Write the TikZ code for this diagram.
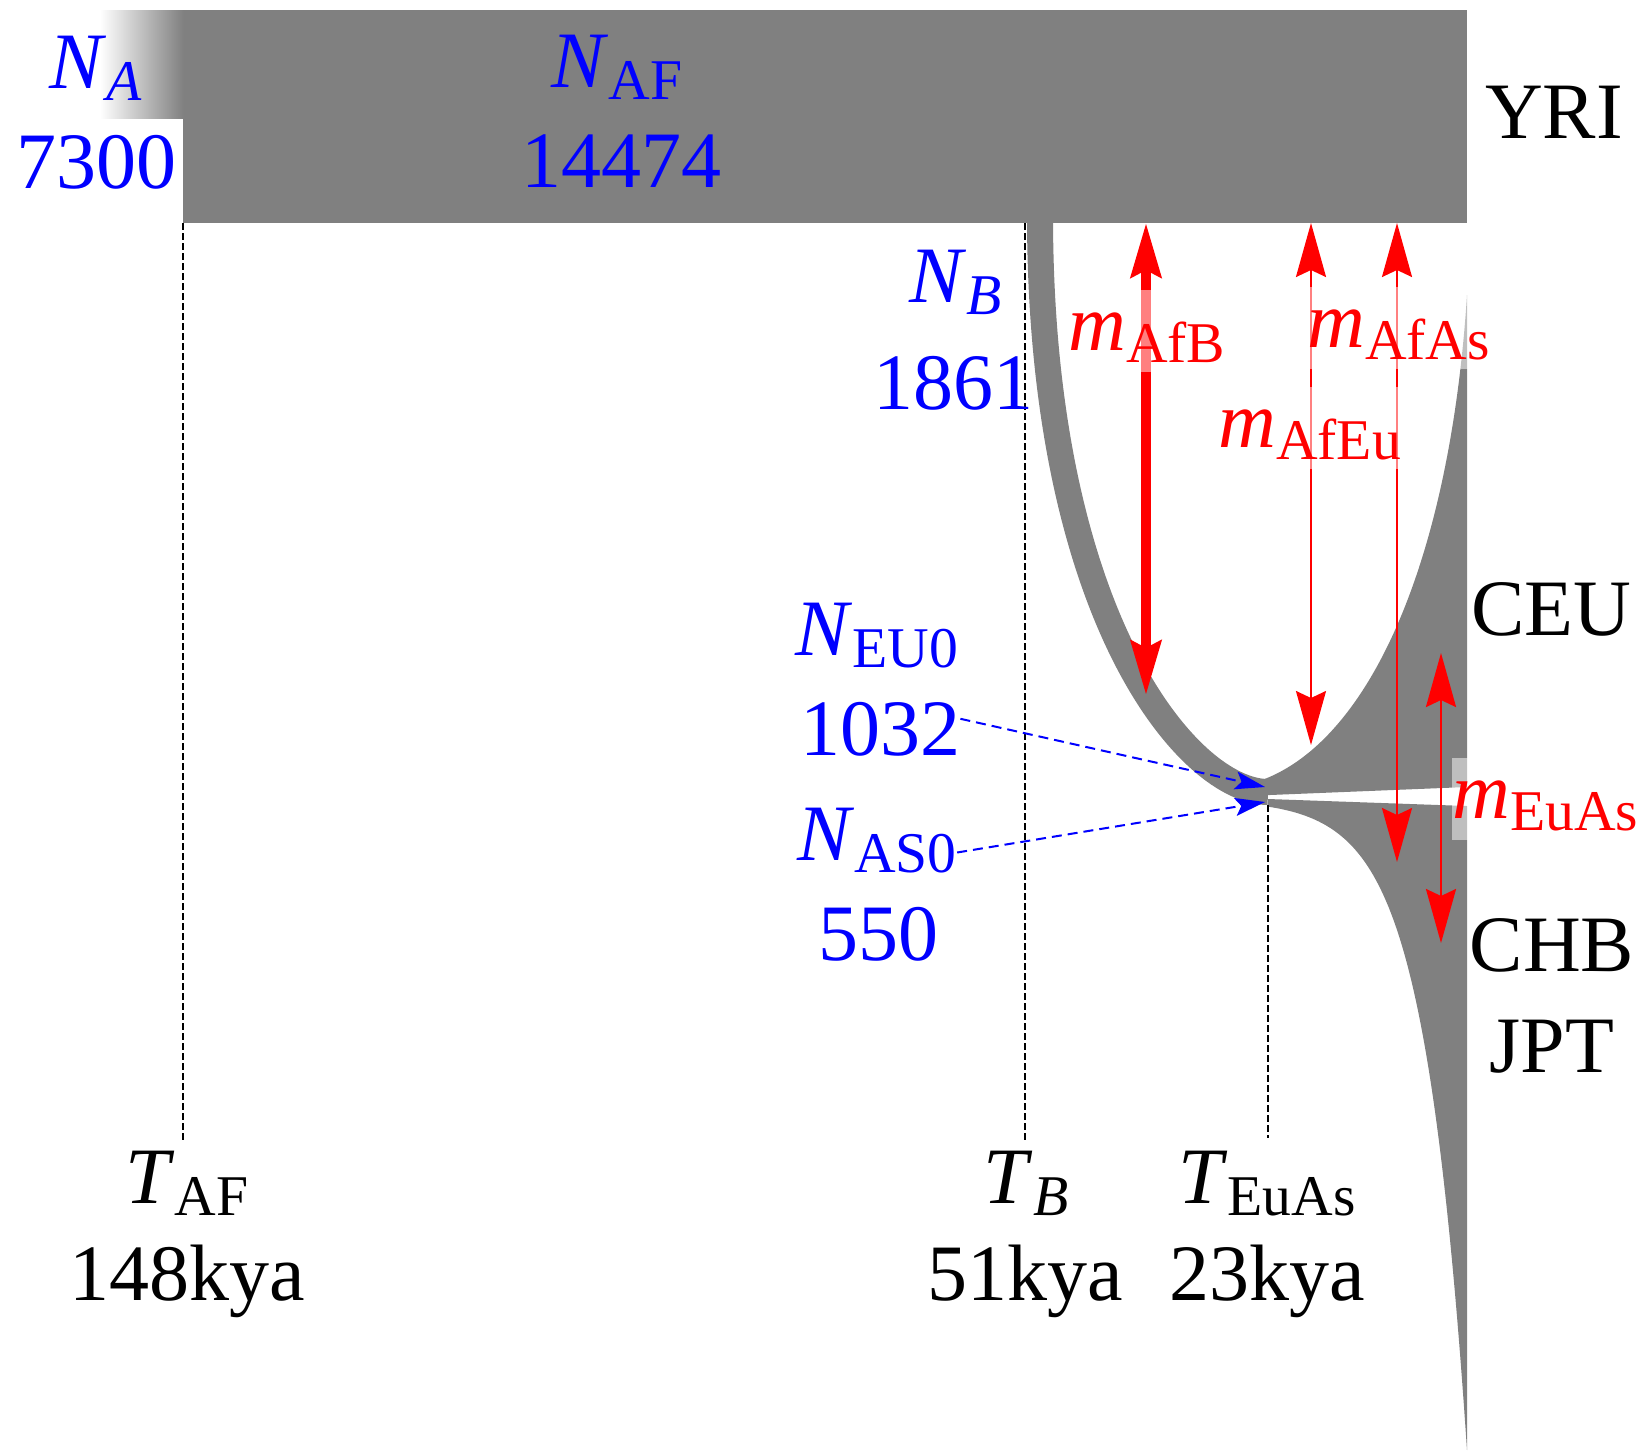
\documentclass[tikz,border=0pt]{standalone}
\usepackage{fontspec}
\setmainfont{Liberation Serif}
\usepackage{graphicx}
\usetikzlibrary{arrows.meta}
\definecolor{popgray}{RGB}{128,128,128}
\newcommand{\lsub}[1]{\raisebox{-0.16em}{\scalebox{0.72}{#1}}}
\begin{document}
\begin{tikzpicture}[x=0.5pt, y=-0.5pt,
  lbl/.style={font=\fontsize{40pt}{48pt}\selectfont, inner sep=0pt, anchor=base},
  bluelbl/.style={lbl, text=blue},
  redlbl/.style={lbl, text=red, anchor=base west, fill=white, fill opacity=0.5, text opacity=1, text height=30pt, text depth=11pt},
  timeline/.style={black, line width=0.7pt, dash pattern=on 3.5pt off 1.5pt},
  bluearrow/.style={blue, line width=1pt, dash pattern=on 5pt off 3pt, -{Stealth[length=15pt,width=9pt,inset=3pt]}},
  migthin/.style={red, line width=1pt, {Stealth[length=27pt,width=15pt,inset=3.5pt]}-{Stealth[length=27pt,width=15pt,inset=3.5pt]}},
  migthick/.style={red, line width=5pt, {Stealth[length=27pt,width=15pt,inset=3.5pt]}-{Stealth[length=27pt,width=15pt,inset=3.5pt]}}
]
\useasboundingbox (0,0) rectangle (1640,1453);
% populations
\fill[popgray] (183,10) rectangle (1467,223);
\shade[left color=white, right color=popgray] (100,10) rectangle (183.5,118);
\draw[popgray, line width=13pt] (1040,215) .. controls (1040,620) and (1190,792) .. (1268,792);
\fill[popgray] (1262,780) .. controls (1370,740) and (1450,560) .. (1467,295) -- (1467,787) -- (1270,795) -- (1262,795) -- cycle;
\fill[popgray] plot[domain=1268:1467, samples=120] (\x, {800+650*exp(0.023*(\x-1467))}) -- (1467,806) -- (1268,799) -- cycle;
% coordinates
\coordinate (tafTop) at (183,223);
\coordinate (tafBot) at (183,1140);
\coordinate (tbTop) at (1025,223);
\coordinate (tbBot) at (1025,1140);
\coordinate (teaTop) at (1268,805);
\coordinate (teaBot) at (1268,1138);
\coordinate (jEU) at (1265,787);
\coordinate (jAS) at (1265,802);
\coordinate (afbTop) at (1146,223);
\coordinate (afbBot) at (1146,695);
\coordinate (afeuTop) at (1311,223);
\coordinate (afeuBot) at (1311,745);
\coordinate (afasTop) at (1397,223);
\coordinate (afasBot) at (1397,862);
\coordinate (euasTop) at (1441,653);
\coordinate (euasBot) at (1441,943);
% time lines
\draw[timeline] (tafTop) -- (tafBot);
\draw[timeline] (tbTop) -- (tbBot);
\draw[timeline] (teaTop) -- (teaBot);
% migration arrows
\draw[migthick] (afbTop) -- (afbBot);
\draw[migthin] (afeuTop) -- (afeuBot);
\draw[migthin] (afasTop) -- (afasBot);
\draw[migthin, line width=1.2pt] (euasTop) -- (euasBot);
% migration labels
\node[redlbl] (mAfB) at (1068,350) {\textit{m}\lsub{AfB}};
\node[redlbl] (mAfAs) at (1307,347) {\textit{m}\lsub{AfAs}};
\node[redlbl] (mAfEu) at (1218,447) {\textit{m}\lsub{AfEu}};
\node[redlbl] (mEuAs) at (1452,818) {\textit{m}\lsub{EuAs}};
% size labels
\node[bluelbl] (nA) at (96,88) {\textit{N}\lsub{\textit{A}}};
\node[bluelbl] (v7300) at (97,188) {7300};
\node[bluelbl] (nAF) at (617,87) {\textit{N}\lsub{AF}};
\node[bluelbl] (v14474) at (621,187) {14474};
\node[bluelbl] (nB) at (956,302) {\textit{N}\lsub{\textit{B}}};
\node[bluelbl] (v1861) at (953,409) {1861};
\node[bluelbl] (nEU0) at (877,655) {\textit{N}\lsub{EU0}};
\node[bluelbl] (v1032) at (880,755) {1032};
\node[bluelbl] (nAS0) at (877,860) {\textit{N}\lsub{AS0}};
\node[bluelbl] (v550) at (878,960) {550};
\draw[bluearrow] ([yshift=5pt]v1032.east) -- (jEU);
\draw[bluearrow] ([yshift=-6pt]nAS0.east) -- (jAS);
% population names
\node[lbl] (yri) at (1554,138) {YRI};
\node[lbl] (ceu) at (1551,635) {CEU};
\node[lbl] (chb) at (1552,971) {CHB};
\node[lbl] (jpt) at (1552,1072) {JPT};
% times
\node[lbl] (tAF) at (187,1203) {\textit{T}\lsub{AF}};
\node[lbl] (kAF) at (187,1300) {148kya};
\node[lbl] (tB) at (1026,1203) {\textit{T}\lsub{\textit{B}}};
\node[lbl] (kB) at (1025,1300) {51kya};
\node[lbl] (tEA) at (1267,1203) {\textit{T}\lsub{EuAs}};
\node[lbl] (kEA) at (1267,1300) {23kya};
\end{tikzpicture}
\end{document}
